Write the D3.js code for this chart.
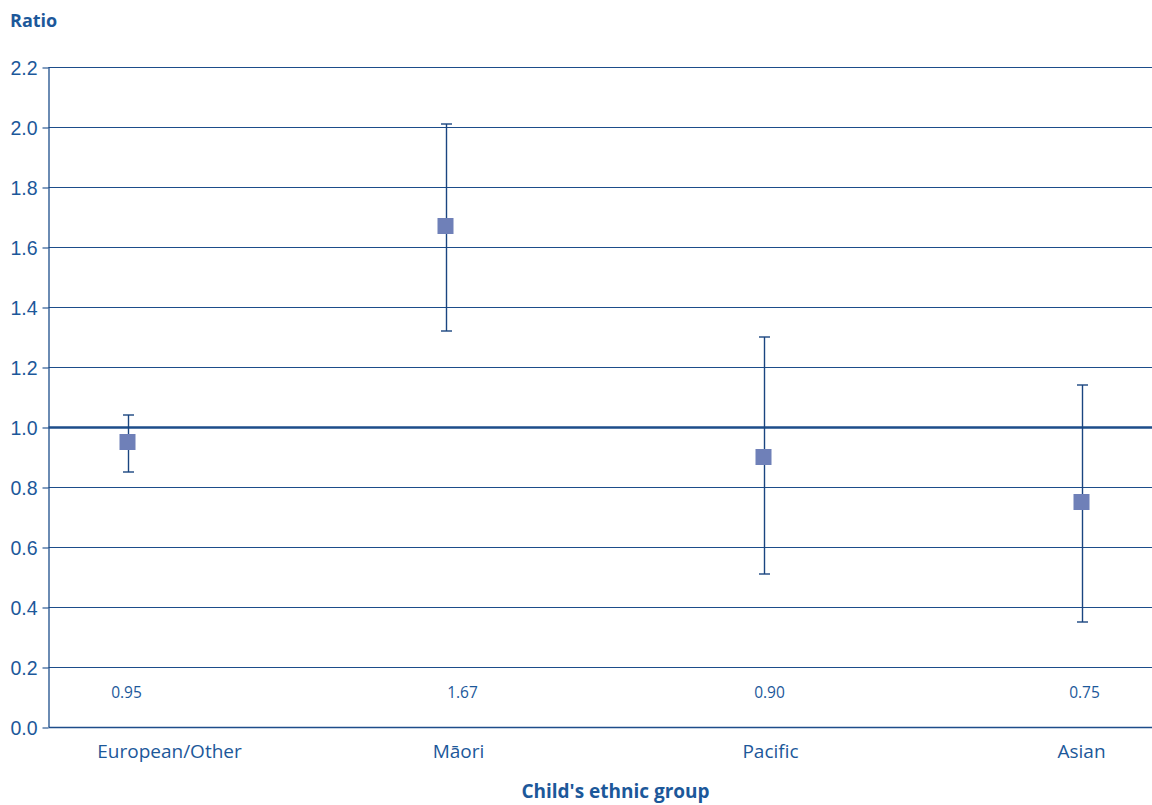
<!DOCTYPE html>
<html>
<head>
<meta charset="utf-8">
<script src="https://cdn.jsdelivr.net/npm/d3@7"></script>
<style>
  html, body { margin: 0; padding: 0; background: #fff; }
  svg { display: block; font-family: "Open Sans", "Noto Sans", sans-serif; }
</style>
</head>
<body>
<svg id="chart" width="1152" height="805"></svg>
<script>
// Ratio estimates by child's ethnic group, with 95% confidence intervals
const categories = ["European/Other", "Māori", "Pacific", "Asian"];
const ratios     = [0.95, 1.67, 0.90, 0.75];
const ciLower    = [0.85, 1.32, 0.51, 0.35];
const ciUpper    = [1.04, 2.01, 1.30, 1.14];
const valueLabels = ["0.95", "1.67", "0.90", "0.75"];
const yTicks = [0.0, 0.2, 0.4, 0.6, 0.8, 1.0, 1.2, 1.4, 1.6, 1.8, 2.0, 2.2];

// layout
const W = 1152, H = 805;
const plot = { left: 48.5, right: 1152, top: 67, bottom: 727 };
const catLabelShift = [42, 13, 7, 0];     // category label nudges
const valLabelShift = [-1, 17, 6, 3];     // value label nudges

const textColor = "#1c589a";
const lineColor = "#1d4d8a";
const markColor = "#6f80b8";

const svg = d3.select("#chart");

const y = d3.scaleLinear().domain([0, 2.2]).range([plot.bottom, plot.top]);
const x = d3.scalePoint().domain(categories).range([127.5, 1081.5]);

// horizontal gridlines
svg.append("g").selectAll("line").data(yTicks.filter(d => d > 0)).join("line")
  .attr("x1", plot.left).attr("x2", plot.right)
  .attr("y1", d => Math.round(y(d)) + 0.5).attr("y2", d => Math.round(y(d)) + 0.5)
  .attr("stroke", lineColor)
  .attr("stroke-width", d => Math.abs(d - 1) < 1e-9 ? 2.5 : 1.1);

// y axis
const yAxis = d3.axisLeft(y).tickValues(yTicks).tickFormat(d3.format(".1f"))
  .tickSize(6).tickPadding(5);
const gy = svg.append("g").attr("transform", `translate(${plot.left},0)`).call(yAxis);
gy.select(".domain").attr("stroke", lineColor).attr("stroke-width", 1.3)
  .attr("d", `M0.5,${plot.top}V${plot.bottom}`);
gy.selectAll(".tick line").attr("stroke", lineColor).attr("stroke-width", 1.1)
  .attr("transform", "translate(0,0.5)");
gy.selectAll(".tick text").attr("fill", textColor).attr("font-size", 19.5)
  .attr("dy", "0.36em");

// x axis baseline
svg.append("line")
  .attr("x1", plot.left).attr("x2", plot.right)
  .attr("y1", y(0) + 0.5).attr("y2", y(0) + 0.5)
  .attr("stroke", lineColor).attr("stroke-width", 1.3);

// category labels
svg.append("g").selectAll("text").data(categories).join("text")
  .attr("x", (d, i) => x(d) + catLabelShift[i])
  .attr("y", 758)
  .attr("text-anchor", "middle")
  .attr("fill", textColor).attr("font-size", 19)
  .text(d => d);

// value labels
svg.append("g").selectAll("text").data(valueLabels).join("text")
  .attr("x", (d, i) => x(categories[i]) + valLabelShift[i])
  .attr("y", 698)
  .attr("text-anchor", "middle")
  .attr("fill", textColor).attr("font-size", 15.5)
  .text(d => d);

// error bars
const capHalf = 5.5;
const eb = svg.append("g").attr("stroke", "#1a4580").attr("stroke-width", 1.4);
categories.forEach((c, i) => {
  const cx = Math.round(x(c)) + 0.5;
  eb.append("line").attr("x1", cx).attr("x2", cx)
    .attr("y1", y(ciUpper[i])).attr("y2", y(ciLower[i]));
  [ciUpper[i], ciLower[i]].forEach(v => {
    eb.append("line").attr("x1", cx - capHalf).attr("x2", cx + capHalf)
      .attr("y1", y(v)).attr("y2", y(v));
  });
});

// point markers
const ms = 16;
svg.append("g").selectAll("rect").data(ratios).join("rect")
  .attr("x", (d, i) => x(categories[i]) - ms / 2)
  .attr("y", d => y(d) - ms / 2)
  .attr("width", ms).attr("height", ms)
  .attr("fill", markColor);

// axis titles
svg.append("text")
  .attr("x", 10).attr("y", 27)
  .attr("fill", textColor).attr("font-size", 18).attr("font-weight", "bold")
  .text("Ratio");

svg.append("text")
  .attr("x", 615.5).attr("y", 798)
  .attr("text-anchor", "middle")
  .attr("fill", textColor).attr("font-size", 19).attr("font-weight", "bold")
  .text("Child's ethnic group");
</script>
</body>
</html>
